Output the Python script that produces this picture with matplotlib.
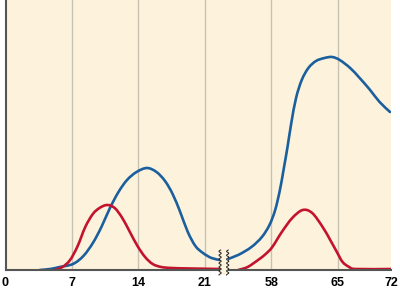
"""
Curvas de concentração com eixo de tempo interrompido (dias 21 a 58).
"""
import matplotlib
import matplotlib.pyplot as plt
import numpy as np
from matplotlib.patches import PathPatch
from matplotlib.path import Path

matplotlib.use('Agg')

# Cores
COLORS = {
    'blue': '#1B5F9E',
    'red': '#C3132E',
    'fundo': '#FDF3DC',
    'grade': '#C8C2B4',
    'eixo': '#555555',
}

# Eixo interrompido: dias após a quebra são deslocados por GAP
GAP = 30
QUEBRA = (22.6, 23.4)
X_MAX = 40.6

TICK_DIAS = [0, 7, 14, 21, 58, 65]
TICK_LABELS = ['0', '7', '14', '21', '58', '65', '72']

# Curva azul (dias, nível) - antes e depois da quebra
blue_dias_a = [3.6, 4.7, 5.7, 7.1, 8.2, 9.2, 10.1, 11.0, 11.9, 12.8, 13.8,
               14.9, 15.9, 16.8, 17.6, 18.4, 19.2, 20.0, 20.8, 21.7, 22.6]
blue_vals_a = [0, 1, 3, 6, 14, 27, 43, 62, 78, 90, 98,
               102, 98, 89, 76, 58, 38, 24, 17, 12, 10]
blue_dias_b = [53.1, 54.5, 55.9, 57.0, 57.8, 58.4, 58.9, 59.3, 59.7, 60.1,
               60.6, 61.2, 61.9, 62.7, 63.6, 64.4, 65.2, 66.3, 67.3, 68.4,
               69.4, 70.5]
blue_vals_b = [10, 15, 23, 33, 45, 60, 80, 101, 123, 147,
               172, 190, 202, 209, 212, 213, 210, 202, 192, 180,
               168, 158]

# Curva vermelha
red_dias_a = [5.2, 6.0, 6.8, 7.6, 8.4, 9.2, 9.9, 10.7, 11.5, 12.3, 13.1,
              13.9, 14.7, 15.5, 16.4, 17.5, 19.5, 22.6]
red_vals_a = [0, 3, 10, 24, 43, 56, 62, 65, 62, 52, 38,
              24, 13, 6, 3, 2, 1.5, 1]
red_dias_b = [54.5, 55.5, 56.6, 57.4, 58.1, 59.1, 60.2, 61.3, 62.3, 63.4,
              64.2, 64.9, 65.5, 66.2, 66.9, 70.6]
red_vals_b = [0, 3, 10, 16, 23, 38, 52, 60, 57, 43,
              30, 18, 8, 3, 1, 1]


def pos(dias):
    """Converte dias para a posição no eixo interrompido."""
    d = np.asarray(dias, dtype=float)
    return np.where(d > 40, d - GAP, d)


def curva_suave(ax, xs, ys, cor):
    """Desenha uma curva suave (Catmull-Rom) passando pelos pontos."""
    p = np.column_stack([xs, ys]).astype(float)
    ext = np.vstack([p[0], p, p[-1]])
    verts = [p[0]]
    codes = [Path.MOVETO]
    for i in range(1, len(ext) - 2):
        p0, p1, p2, p3 = ext[i - 1], ext[i], ext[i + 1], ext[i + 2]
        verts += [p1 + (p2 - p0) / 6, p2 - (p3 - p1) / 6, p2]
        codes += [Path.CURVE4] * 3
    patch = PathPatch(Path(verts, codes), facecolor='none', edgecolor=cor,
                      linewidth=1.9, capstyle='round', joinstyle='round',
                      zorder=3)
    ax.add_patch(patch)


fig = plt.figure(figsize=(4.0, 2.94), dpi=100)
ax = fig.add_axes([5.5 / 400, 24 / 294, (391 - 5.5) / 400, 270 / 294])
ax.set_facecolor(COLORS['fundo'])

ax.set_xlim(0, X_MAX)
ax.set_ylim(0, 270)

# Grade vertical
for d in TICK_DIAS[1:]:
    ax.axvline(pos(d), color=COLORS['grade'], linewidth=1, zorder=1)

curva_suave(ax, pos(blue_dias_a), blue_vals_a, COLORS['blue'])
curva_suave(ax, pos(blue_dias_b), blue_vals_b, COLORS['blue'])
curva_suave(ax, pos(red_dias_a), red_vals_a, COLORS['red'])
curva_suave(ax, pos(red_dias_b), red_vals_b, COLORS['red'])

# Marca de quebra do eixo
ax.axvspan(QUEBRA[0], QUEBRA[1], ymin=-0.02, ymax=1.0, color=COLORS['fundo'],
           zorder=4, clip_on=False, linewidth=0)
yy = np.linspace(-5, 20, 60)
for xq in QUEBRA:
    ax.plot(xq + 0.12 * np.sin(yy * 1.6), yy, color='#222222', linewidth=0.7,
            zorder=5, clip_on=False)

# Eixos
for lado in ['top', 'right']:
    ax.spines[lado].set_visible(False)
ax.spines['left'].set_color(COLORS['eixo'])
ax.spines['left'].set_linewidth(1.5)
ax.spines['bottom'].set_color(COLORS['eixo'])
ax.spines['bottom'].set_linewidth(1.5)
ax.spines['bottom'].set_zorder(3.5)

ax.set_yticks([])
ax.set_xticks(list(pos(TICK_DIAS)) + [X_MAX])
ax.set_xticklabels(TICK_LABELS, fontsize=9, fontweight='bold',
                   family='Liberation Sans')
ax.tick_params(axis='x', length=0, pad=5)

plt.savefig('out.png', dpi=100, facecolor='white')
plt.close()
